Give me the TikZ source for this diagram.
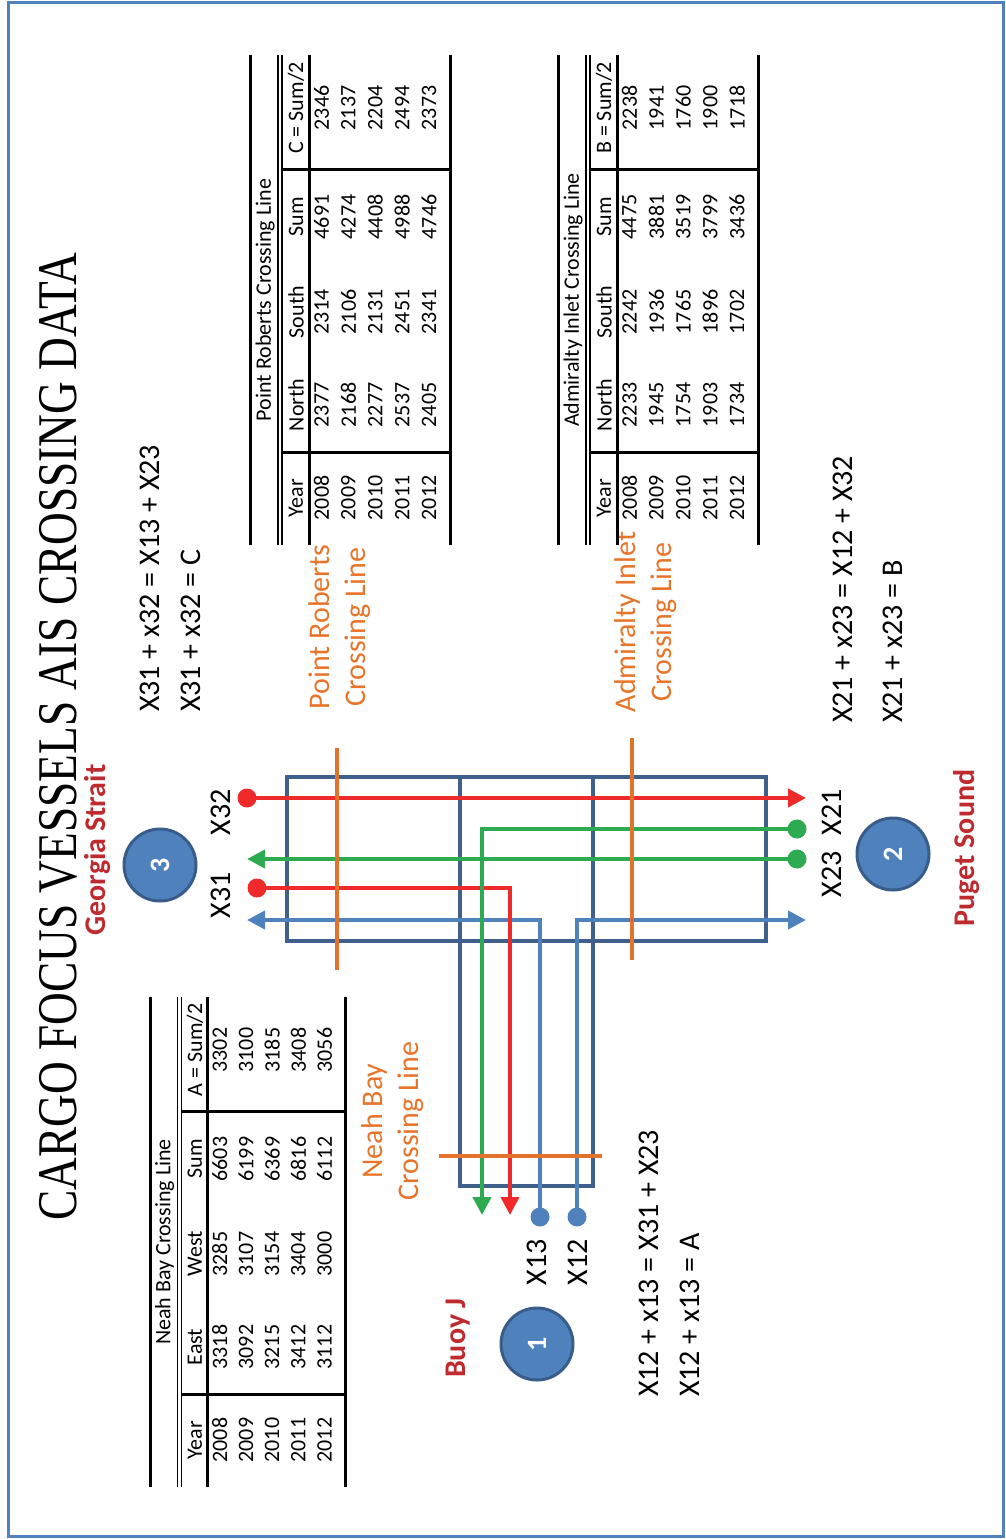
\documentclass[tikz,border=0pt]{standalone}
\usepackage{fontspec}
\setmainfont{Carlito}
\newfontfamily\titlefont{Liberation Serif}
\usetikzlibrary{arrows.meta}
\definecolor{frameblue}{HTML}{4F81BD}
\definecolor{tblue}{HTML}{3F5F8C}
\definecolor{lblue}{HTML}{4F81BD}
\definecolor{lred}{HTML}{EE2A2A}
\definecolor{lgreen}{HTML}{2EAA50}
\definecolor{lorange}{HTML}{E2722C}
\definecolor{torange}{HTML}{E8742A}
\definecolor{dred}{HTML}{BE2A2E}
\definecolor{cborder}{HTML}{385D8A}
\newcommand\cargotab[6]{%
  \draw[thickrule] (0,0) -- (0,-490);
  \draw[thinrule] (28,0) -- (28,-490);
  \draw[thinrule] (32,0) -- (32,-490);
  \draw[thickrule] (200,0) -- (200,-490);
  \draw[thickrule] (32,-93) -- (200,-93);
  \draw[thickrule] (32,-376) -- (200,-376);
  \draw[thickrule] (59,0) -- (59,-490);
  \node[cell] (#1-title) at (15,-245) {#2};
  \node[cell] (#1-h1) at (46,-47) {Year};
  \node[cell] (#1-h2) at (46,-140) {#3};
  \node[cell] (#1-h3) at (46,-233) {#4};
  \node[cell] (#1-h4) at (46,-328) {Sum};
  \node[cell] (#1-h5) at (46,-437) {#5};
  \foreach \yr/\va/\vb/\vc/\vd [count=\i from 0] in {#6} {
    \pgfmathsetmacro\rx{71.5+26.9*\i}
    \node[cell] (#1-\i-1) at (\rx,-47) {\yr};
    \node[cell] (#1-\i-2) at (\rx,-140) {\va};
    \node[cell] (#1-\i-3) at (\rx,-233) {\vb};
    \node[cell] (#1-\i-4) at (\rx,-328) {\vc};
    \node[cell] (#1-\i-5) at (\rx,-437) {\vd};
  }
}
\begin{document}
\begin{tikzpicture}[x=1pt,y=-1pt,
  rtext/.style={rotate=90,inner sep=0pt,font=\fontsize{30}{36}\selectfont},
  eqn/.style={rtext,anchor=west},
  place/.style={rtext,font=\fontsize{30}{36}\selectfont\bfseries,text=dred},
  crossing/.style={rtext,text=torange,align=center},
  cell/.style={rotate=90,inner sep=0pt,font=\fontsize{22}{26}\selectfont},
  thickrule/.style={line width=3pt,black},
  thinrule/.style={line width=1.3pt,black},
  station/.style={circle,draw=cborder,line width=3pt,fill=lblue,minimum size=72pt,inner sep=0pt,text=white,rotate=90,font=\fontsize{28}{32}\selectfont\bfseries},
  channel/.style={draw=tblue,line width=3.5pt},
  xline/.style={draw=lorange,line width=4.5pt},
  flow/.style={line width=4pt,-{Triangle[length=18pt,width=18pt]}},
  enddot/.style={circle,inner sep=0pt,minimum size=19pt},
]
\useasboundingbox (0,0) rectangle (1005,1539);
\draw[frameblue,line width=3pt] (8,2) rectangle (1003,1536);

% title
\node[rtext,anchor=west,font=\titlefont\fontsize{56}{60}\selectfont,xscale=0.81] (title) at (58,1221) {CARGO FOCUS VESSELS AIS CROSSING DATA};

% channel (T shape)
\draw[channel] (287,777) rectangle (766,941);
\draw[channel] (460,777) -- (460,1186) -- (593,1186) -- (593,777);

% flows
\coordinate (r1s) at (247,798); \coordinate (r1e) at (806,798);
\coordinate (r2s) at (257,888); \coordinate (r2e) at (510,1215);
\coordinate (g1s) at (797,829); \coordinate (g1e) at (482,1215);
\coordinate (g2s) at (797,859); \coordinate (g2e) at (247,859);
\coordinate (b1s) at (540,1217); \coordinate (b1e) at (247,920);
\coordinate (b2s) at (577,1217); \coordinate (b2e) at (806,920);

\draw[flow,lblue] (b1s) |- (b1e);
\draw[flow,lblue] (b2s) |- (b2e);
\draw[flow,lred] (r1s) -- (r1e);
\draw[flow,lred] (r2s) -| (r2e);
\draw[flow,lgreen] (g1s) -| (g1e);
\draw[flow,lgreen] (g2s) -- (g2e);
\node[enddot,fill=lred] (d1) at (r1s) {};
\node[enddot,fill=lred] (d2) at (r2s) {};
\node[enddot,fill=lgreen] (d3) at (g1s) {};
\node[enddot,fill=lgreen] (d4) at (g2s) {};
\node[enddot,fill=lblue] (d5) at (b1s) {};
\node[enddot,fill=lblue] (d6) at (b2s) {};

% crossing lines
\draw[xline] (337,748) -- (337,970);
\draw[xline] (632,738) -- (632,960);
\draw[xline] (439,1156) -- (602,1156);

% stations
\node[station] (s3) at (160,865) {3};
\node[station] (s2) at (893,854) {2};
\node[station] (s1) at (537,1344) {1};

\node[place] (gs) at (98,850) {Georgia Strait};
\node[place] (ps) at (967,848) {Puget Sound};
\node[place] (bj) at (458,1338) {Buoy J};

\node[crossing] (prl) at (340,627) {Point Roberts\\Crossing Line};
\node[crossing] (ail) at (646,622) {Admiralty Inlet\\Crossing Line};
\node[crossing] (nbl) at (393,1121) {Neah Bay\\Crossing Line};

% flow labels
\node[rtext] (lx31) at (221,895) {X31};
\node[rtext] (lx32) at (221,812) {X32};
\node[rtext] (lx23) at (832,874) {X23};
\node[rtext] (lx21) at (832,812) {X21};
\node[rtext] (lx13) at (537,1262) {X13};
\node[rtext] (lx12) at (578,1262) {X12};

% equations
\node[eqn] (eq1) at (150,712) {X31 + x32 = X13 + X23};
\node[eqn] (eq2) at (191,712) {X31 + x32 = C};
\node[eqn] (eq3) at (649,1397) {X12 + x13 = X31 + X23};
\node[eqn] (eq4) at (690,1397) {X12 + x13 = A};
\node[eqn] (eq5) at (843,723) {X21 + x23 = X12 + X32};
\node[eqn] (eq6) at (893,723) {X21 + x23 = B};

% tables
\begin{scope}[shift={(250,545)}]
\cargotab{pr}{Point Roberts Crossing Line}{North}{South}{C = Sum/2}{2008/2377/2314/4691/2346,2009/2168/2106/4274/2137,2010/2277/2131/4408/2204,2011/2537/2451/4988/2494,2012/2405/2341/4746/2373}
\end{scope}
\begin{scope}[shift={(558,545)}]
\cargotab{ai}{Admiralty Inlet Crossing Line}{North}{South}{B = Sum/2}{2008/2233/2242/4475/2238,2009/1945/1936/3881/1941,2010/1754/1765/3519/1760,2011/1903/1896/3799/1900,2012/1734/1702/3436/1718}
\end{scope}
\begin{scope}[shift={(150,1487)},xscale=0.975]
\cargotab{nb}{Neah Bay Crossing Line}{East}{West}{A = Sum/2}{2008/3318/3285/6603/3302,2009/3092/3107/6199/3100,2010/3215/3154/6369/3185,2011/3412/3404/6816/3408,2012/3112/3000/6112/3056}
\end{scope}
\end{tikzpicture}
\end{document}
